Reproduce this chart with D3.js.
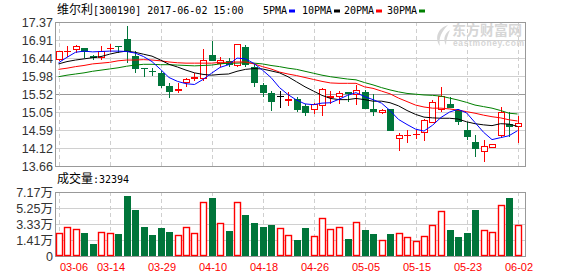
<!DOCTYPE html>
<html>
<head>
<meta charset="utf-8">
<script src="https://cdn.jsdelivr.net/npm/d3@7/dist/d3.min.js"></script>
<style>
body { margin: 0; background: #fff; }
text { font-family: "Liberation Sans", "Noto Sans CJK SC", sans-serif; }
</style>
</head>
<body>
<div id="main"></div>
<script>
// daily k-line, 维尔利 300190
var opens = [16.38,16.62,16.64,16.69,16.49,16.43,16.70,16.76,16.93,16.49,16.18,16.10,16.06,15.72,15.60,15.79,15.91,15.89,16.51,16.30,16.36,16.24,16.73,16.22,15.75,15.55,15.46,15.33,15.38,15.21,15.10,15.21,15.42,15.44,15.56,15.48,15.57,15.12,15.02,15.14,14.35,14.45,14.47,14.52,14.76,15.10,15.26,15.09,14.60,14.29,14.03,14.12,14.44,14.73,14.67];
var highs = [16.62,16.75,16.77,16.71,16.52,16.75,16.80,16.76,17.27,16.61,16.18,16.19,16.12,15.81,15.79,15.92,16.05,16.67,16.89,16.48,16.43,16.80,16.78,16.30,15.79,15.59,15.59,15.57,15.44,15.25,15.28,15.68,15.59,15.59,15.57,15.75,15.61,15.51,15.14,15.14,14.52,14.59,14.59,14.86,15.36,15.70,15.43,15.12,14.80,14.46,14.33,14.22,15.17,15.04,14.95];
var lows = [16.37,16.48,16.56,16.43,16.39,16.39,16.60,16.58,16.32,16.06,15.96,15.98,15.68,15.42,15.55,15.70,15.86,15.85,16.36,16.22,16.20,16.22,16.22,15.70,15.44,15.08,15.16,15.21,15.05,14.95,15.00,14.95,15.27,15.27,15.32,15.23,15.13,14.95,14.99,14.57,14.05,14.24,14.35,14.31,14.76,15.06,15.16,14.72,14.33,13.90,13.77,14.12,14.41,14.41,14.26];
var closes = [16.61,16.63,16.75,16.59,16.43,16.63,16.71,16.75,16.59,16.17,16.17,16.08,15.73,15.57,15.65,15.89,15.95,16.38,16.37,16.39,16.26,16.80,16.26,15.79,15.55,15.32,15.46,15.39,15.10,15.02,15.25,15.64,15.46,15.53,15.51,15.63,15.13,15.04,15.10,14.57,14.46,14.46,14.48,14.84,15.30,15.46,15.16,14.80,14.41,14.09,14.18,14.22,15.04,14.67,14.76];
// volume in 万
var volumes = [2.21,2.93,2.69,2.29,0.93,2.33,2.21,2.13,6.69,5.01,2.97,2.01,2.81,2.37,1.97,2.93,2.21,5.93,6.41,3.41,2.49,5.93,4.41,3.45,2.97,3.21,2.81,1.97,1.41,2.81,1.85,4.01,2.69,3.01,1.53,3.53,2.61,2.13,1.37,2.13,2.21,1.73,1.29,1.85,3.17,4.85,2.61,1.77,2.25,5.01,2.57,2.37,5.61,6.45,3.24];
var lastVolume = 32394;
var ma5 = [16.32,16.46,16.59,16.62,16.60,16.61,16.62,16.62,16.61,16.57,16.48,16.35,16.15,15.94,15.84,15.78,15.76,15.89,16.05,16.20,16.27,16.44,16.42,16.30,16.13,15.94,15.68,15.50,15.36,15.26,15.24,15.28,15.29,15.38,15.48,15.55,15.45,15.37,15.28,15.09,14.86,14.73,14.61,14.56,14.71,14.91,15.05,15.12,15.03,14.78,14.53,14.34,14.39,14.44,14.57];
var ma10 = [16.29,16.35,16.39,16.42,16.45,16.48,16.54,16.59,16.62,16.59,16.54,16.49,16.39,16.28,16.21,16.13,16.06,16.02,16.00,16.02,16.03,16.10,16.15,16.17,16.16,16.11,16.06,15.96,15.83,15.70,15.59,15.48,15.40,15.37,15.37,15.40,15.37,15.33,15.33,15.29,15.21,15.09,14.99,14.92,14.90,14.89,14.89,14.87,14.80,14.75,14.72,14.70,14.75,14.74,14.68];
var ma20 = [16.15,16.18,16.22,16.25,16.29,16.31,16.33,16.37,16.39,16.39,16.40,16.39,16.37,16.34,16.32,16.31,16.31,16.31,16.31,16.33,16.33,16.34,16.34,16.29,16.22,16.16,16.08,16.03,15.99,15.94,15.89,15.84,15.80,15.79,15.79,15.79,15.70,15.66,15.59,15.52,15.41,15.32,15.23,15.18,15.15,15.15,15.13,15.10,15.06,15.02,14.97,14.93,14.90,14.85,14.82];
var ma30 = [15.96,16.00,16.03,16.06,16.10,16.13,16.16,16.19,16.23,16.26,16.28,16.28,16.27,16.27,16.26,16.25,16.24,16.25,16.26,16.29,16.31,16.31,16.32,16.31,16.29,16.25,16.22,16.18,16.15,16.10,16.05,16.00,15.96,15.93,15.90,15.88,15.81,15.75,15.68,15.62,15.57,15.53,15.51,15.49,15.48,15.46,15.41,15.36,15.30,15.23,15.19,15.15,15.09,15.02,15.00];

var priceTicks = [13.66,14.12,14.59,15.05,15.52,15.98,16.44,16.91,17.37];
var volTicks = [-0.51,1.41,3.33,5.25,7.17];
var volTickLabels = ["0","1.41万","3.33万","5.25万","7.17万"];
var dateIdx = [0,6,12,18,24,30,36,42,48,54];
var dateLabels = ["03-06","03-14","03-29","04-10","04-18","04-26","05-05","05-15","05-23","06-02"];
var maNames = ["5PMA","10PMA","20PMA","30PMA"];
var maColors = ["#0000ff","#000000","#ff0000","#008000"];

var RED = "#ff0000", GREEN = "#00753a";
var left = 55.5, right = 525.5;

var svg = d3.select("#main").append("svg")
    .attr("width", 578)
    .attr("height", 276);

var x = d3.scaleLinear().domain([0, closes.length - 1]).range([58.5, 517.5]);
var y = d3.scaleLinear().domain([13.66, 17.37]).range([166, 22]);
var yv = d3.scaleLinear().domain([-0.51, 7.17]).range([256, 192]);

function px(v) { return Math.round(v) + 0.5; }

function panel(scale, ticks, midTick) {
    var g = svg.append("g");
    g.selectAll(".hgrid")
        .data(ticks)
        .enter().append("line")
        .attr("x1", left).attr("x2", right)
        .attr("y1", function(d) { return px(scale(d)); })
        .attr("y2", function(d) { return px(scale(d)); })
        .attr("stroke", function(d) { return d === midTick ? "#999" : "#d0d0d0"; });
    g.selectAll(".vgrid")
        .data(dateIdx)
        .enter().append("line")
        .attr("x1", function(d) { return px(x(d)); })
        .attr("x2", function(d) { return px(x(d)); })
        .attr("y1", scale.range()[1]).attr("y2", scale.range()[0])
        .attr("stroke", "#cfcfcf")
        .attr("stroke-dasharray", "4,3");
    var r = scale.range();
    g.append("rect")
        .attr("x", left).attr("y", px(r[1]))
        .attr("width", right - left).attr("height", px(r[0]) - px(r[1]))
        .attr("fill", "none").attr("stroke", "#999");
    return g;
}

panel(y, priceTicks, 15.52);
panel(yv, volTicks, null);

// watermark
var wm = svg.append("g").attr("fill", "#d6d6d6");
wm.append("text").attr("x", 452).attr("y", 35)
    .style("font-size", "14px").style("font-weight", "bold")
    .style("font-family", "'Noto Sans CJK SC'")
    .text("东方财富网");
wm.append("text").attr("x", 453).attr("y", 46)
    .style("font-size", "8.5px").style("font-weight", "bold")
    .attr("textLength", 71)
    .text("eastmoney.com");
wm.append("path")
    .attr("d", "M448,25 C438,28 434,38 440,46 C438,38 442,31 448,25 Z M450,30 C444,34 443,40 446,45 C446,39 448,35 450,30 Z");

// y axis labels
var yAxis = d3.axisLeft(y).tickValues(priceTicks).tickSize(0).tickPadding(0)
    .tickFormat(d3.format(".2f"));
svg.append("g")
    .attr("transform", "translate(53,0)")
    .call(yAxis)
    .call(function(g) {
        g.select(".domain").remove();
        g.selectAll("text").attr("dy", "0.36em").attr("x", 0)
            .style("font-size", "12.5px").attr("fill", "#333")
            .style("font-family", "'Liberation Sans'");
    });

var vAxis = d3.axisLeft(yv).tickValues(volTicks).tickSize(0).tickPadding(0)
    .tickFormat(function(d, i) { return volTickLabels[i]; });
svg.append("g")
    .attr("transform", "translate(53,0)")
    .call(vAxis)
    .call(function(g) {
        g.select(".domain").remove();
        g.selectAll("text").attr("dy", "0.36em").attr("x", 0)
            .style("font-size", "12.5px").attr("fill", "#333")
            .style("font-family", "'Liberation Sans', 'Noto Sans CJK SC'");
    });

// dates
svg.append("g").selectAll("text")
    .data(dateIdx)
    .enter().append("text")
    .attr("x", function(d) { return Math.max(x(d) + 1.5, left + 18.5); })
    .attr("y", 271)
    .attr("text-anchor", "middle")
    .attr("fill", RED)
    .style("font-size", "11px")
    .style("font-family", "'Liberation Sans'")
    .text(function(d, i) { return dateLabels[i]; });

// titles
var mono = "'DejaVu Sans Mono', 'Noto Sans CJK SC'";
var title = svg.append("text").attr("x", 57).attr("y", 14)
    .style("font-family", mono).style("font-size", "10px").attr("fill", "#000");
title.append("tspan").style("font-size", "12px").style("font-family", "'Noto Sans CJK SC'").text("维尔利");
title.append("tspan").text("[300190] 2017-06-02 15:00");

var vt = svg.append("text").attr("x", 57).attr("y", 183)
    .style("font-family", mono).style("font-size", "10px").attr("fill", "#000");
vt.append("tspan").style("font-size", "12px").style("font-family", "'Noto Sans CJK SC'").text("成交量");
vt.append("tspan").text(":" + lastVolume);

var legendX = [263, 302, 344, 387];
var leg = svg.append("g").selectAll("g")
    .data(maNames)
    .enter().append("g")
    .attr("transform", function(d, i) { return "translate(" + legendX[i] + ",0)"; });
leg.append("text").attr("y", 14)
    .style("font-family", mono).style("font-size", "10px")
    .text(function(d) { return d; });
leg.append("rect")
    .attr("x", function(d) { return d.length * 6 + 2; })
    .attr("y", 9.5).attr("width", 6).attr("height", 3)
    .attr("fill", function(d, i) { return maColors[i]; });

// candles
var idx = d3.range(closes.length);
function candleColor(i) {
    if (closes[i] > opens[i]) return RED;
    if (closes[i] < opens[i]) return GREEN;
    return "#000";
}
var candles = svg.append("g").selectAll("g")
    .data(idx)
    .enter().append("g");
candles.append("line")
    .attr("x1", function(i) { return px(x(i)); })
    .attr("x2", function(i) { return px(x(i)); })
    .attr("y1", function(i) { return Math.round(y(highs[i])); })
    .attr("y2", function(i) { return Math.round(y(lows[i])); })
    .attr("stroke", candleColor);
candles.each(function(i) {
    var g = d3.select(this);
    var cx = px(x(i));
    var top = Math.round(y(Math.max(opens[i], closes[i])));
    var bot = Math.round(y(Math.min(opens[i], closes[i])));
    if (bot - top < 1.5) {
        g.append("line")
            .attr("x1", cx - 3.5).attr("x2", cx + 3.5)
            .attr("y1", top + 0.5).attr("y2", top + 0.5)
            .attr("stroke", candleColor(i));
    } else if (closes[i] > opens[i]) {
        g.append("rect")
            .attr("x", cx - 3).attr("y", top + 0.5)
            .attr("width", 6).attr("height", bot - top - 1)
            .attr("fill", "#fff").attr("stroke", RED);
    } else {
        g.append("rect")
            .attr("x", cx - 3.5).attr("y", top)
            .attr("width", 7).attr("height", bot - top)
            .attr("fill", GREEN);
    }
});

// moving averages
var mas = [ma5, ma10, ma20, ma30];
var line = d3.line()
    .x(function(d, i) { return x(i); })
    .y(function(d) { return y(d); });
svg.append("g").selectAll("path")
    .data(mas.slice().reverse())
    .enter().append("path")
    .attr("d", line)
    .attr("fill", "none")
    .attr("stroke", function(d, i) { return maColors[3 - i]; })
    .attr("stroke-width", 1);

// volume bars
svg.append("g").selectAll("rect")
    .data(idx)
    .enter().append("rect")
    .each(function(i) {
        var cx = px(x(i));
        var top = Math.round(yv(volumes[i]));
        var r = d3.select(this);
        if (closes[i] >= opens[i]) {
            r.attr("x", cx - 3).attr("y", top + 0.5)
                .attr("width", 6).attr("height", 256 - top - 1)
                .attr("fill", "#fff").attr("stroke", RED).attr("stroke-width", 1.4);
        } else {
            r.attr("x", cx - 3.5).attr("y", top)
                .attr("width", 7).attr("height", 256 - top)
                .attr("fill", GREEN);
        }
    });
</script>
</body>
</html>
